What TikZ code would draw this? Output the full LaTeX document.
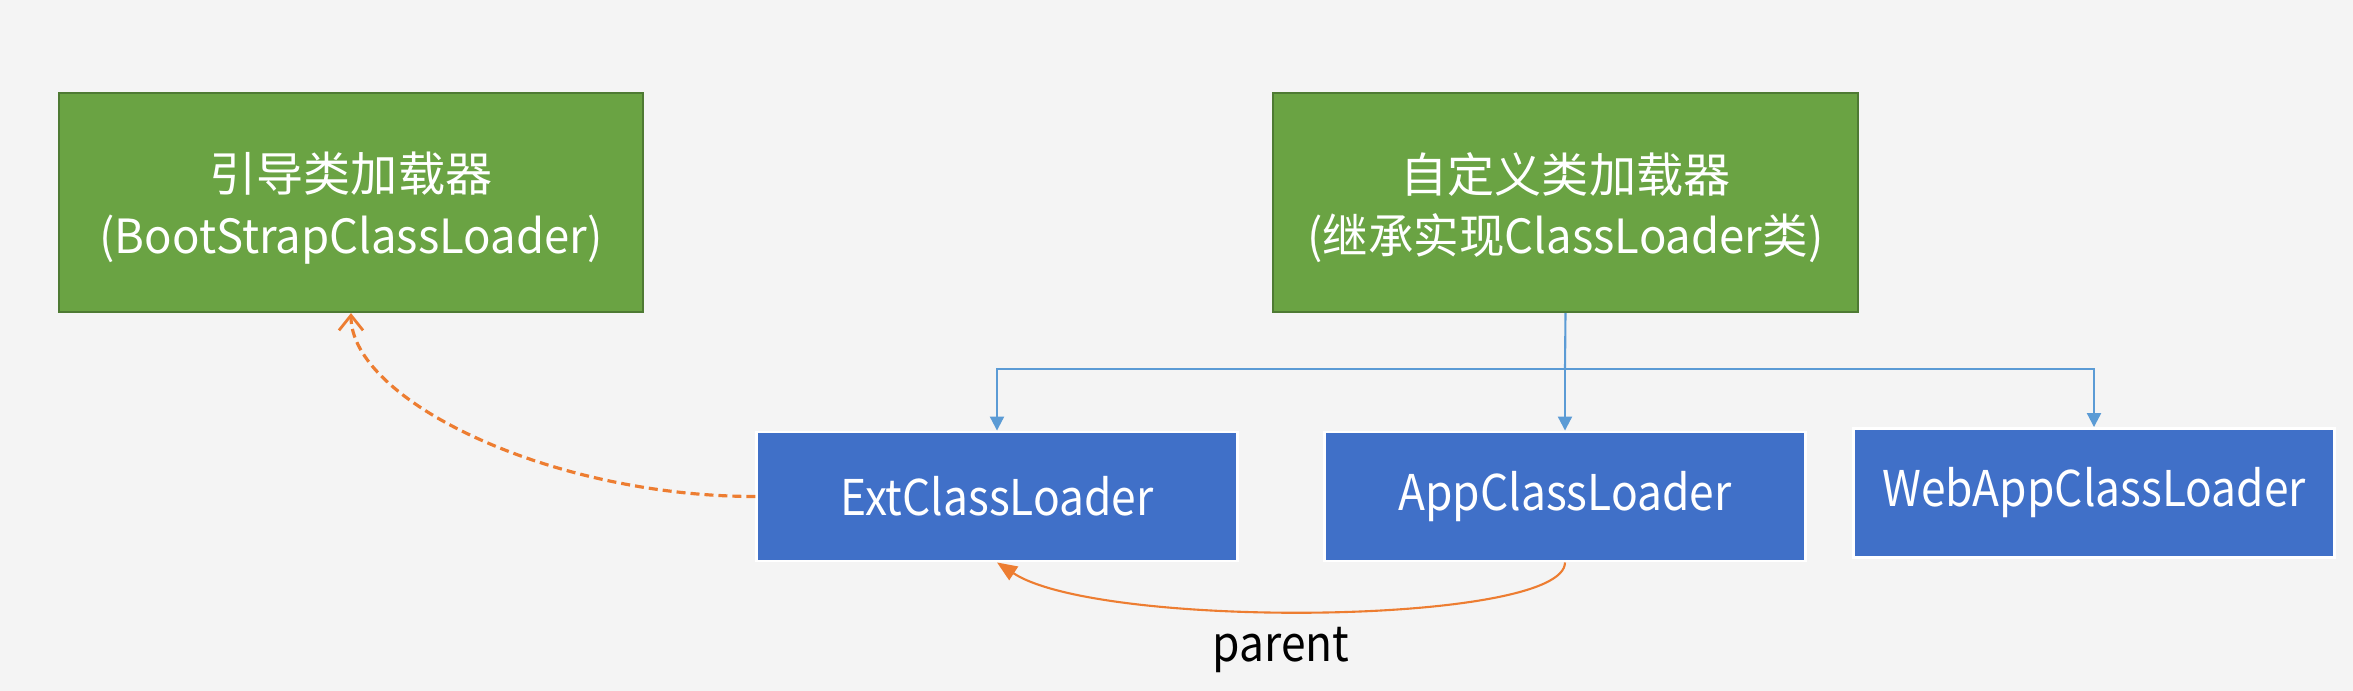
\documentclass[tikz,border=0pt]{standalone}
\usepackage{fontspec}
\setmainfont{Noto Sans CJK SC}
\newfontfamily\narrowfont[FakeStretch=0.9]{Noto Sans CJK SC}
\newfontfamily\slightnarrow[FakeStretch=0.965]{Noto Sans CJK SC}
\usetikzlibrary{arrows.meta}
\definecolor{bg}{HTML}{F4F4F4}
\definecolor{gfill}{HTML}{6AA343}
\definecolor{gline}{HTML}{4E7A33}
\definecolor{bfill}{HTML}{4070C8}
\definecolor{bline}{HTML}{5B9BD5}
\definecolor{oline}{HTML}{ED7D31}
\tikzset{
  greenbox/.style={draw=gline, line width=0.6pt, fill=gfill, inner sep=0pt,
    minimum width=5.84cm, minimum height=2.19cm},
  greentext/.style={text=white, inner sep=0pt, align=center,
    font=\fontsize{13.4pt}{17.4pt}\selectfont},
  bluebox/.style={draw=white, line width=0.8pt, fill=bfill, text=white, inner sep=0pt,
    minimum width=4.8cm, minimum height=1.29cm,
    font=\narrowfont\fontsize{14pt}{16pt}\selectfont},
  treeline/.style={draw=bline, line width=0.6pt},
  treearrow/.style={treeline, -{Triangle[length=0.14cm,width=0.14cm]}},
  dashedparent/.style={draw=oline, line width=0.9pt, dash pattern=on 0.09cm off 0.05cm,
    -{Straight Barb[length=0.15cm,width=0.24cm,line width=0.8pt]}},
  solidparent/.style={draw=oline, line width=0.6pt, -{Triangle[length=0.2cm,width=0.16cm]}},
  lbl/.style={text=black, inner sep=0pt, font=\narrowfont\fontsize{14pt}{16pt}\selectfont}
}
\begin{document}
\begin{tikzpicture}[x=0.01cm, y=-0.01cm]
\useasboundingbox (0,0) rectangle (2353,691);
\fill[bg] (0,0) rectangle (2353,691);

\node[greenbox] (boot) at (351,202.5) {};
\node[greentext] (boottext) at ([yshift=-0.055cm]boot.center)
  {引导类加载器\\{\slightnarrow (BootStrapClassLoader)}};
\node[greenbox] (custom) at (1565.5,202.5) {};
\node[greentext] (customtext) at ([yshift=-0.055cm]custom.center)
  {自定义类加载器\\{\slightnarrow (继承实现ClassLoader类)}};

\node[bluebox] (ext) at (997,496.5) {ExtClassLoader};
\node[bluebox] (app) at (1565,496.5) {AppClassLoader};
\node[bluebox] (web) at (2094,493) {WebAppClassLoader};

\coordinate (j) at (1565,369);
\draw[treeline] (custom.south) -- (j);
\draw[treearrow] (j) -| (ext.north);
\draw[treearrow] (j) -- (app.north);
\draw[treearrow] (j) -| (web.north);

\draw[dashedparent] (ext.west) .. controls (550,496.5) and (351,400) .. (boot.south);
\draw[solidparent] (app.south) .. controls (1565,625) and (1100,630) .. (ext.south);

\node[lbl] (parent) at (1281,650) {parent};
\end{tikzpicture}
\end{document}
